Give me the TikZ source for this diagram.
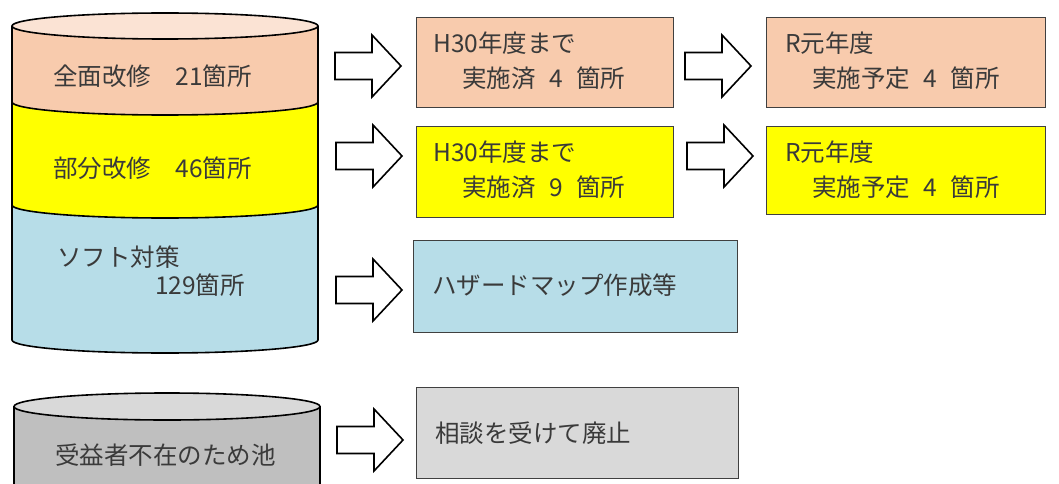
\documentclass[tikz,border=0pt]{standalone}
\usepackage{fontspec}
\setmainfont{Noto Sans CJK JP}
\definecolor{orng}{HTML}{F8CBAD}
\definecolor{orngtop}{HTML}{FBE3D4}
\definecolor{yel}{HTML}{FFFF00}
\definecolor{blu}{HTML}{B7DDE8}
\definecolor{gry}{HTML}{BFBFBF}
\definecolor{grytop}{HTML}{D9D9D9}
\definecolor{grybox}{HTML}{D9D9D9}
\definecolor{txt}{HTML}{3A3A3A}
\begin{document}
\begin{tikzpicture}[x=1pt,y=1pt,
  cyl/.style={draw=black,line width=1.6pt},
  box/.style={draw=black!75,line width=1.3pt,inner sep=0pt,anchor=north west},
  lbl/.style={anchor=west,inner sep=0pt,text=txt,font=\fontsize{24.5}{35}\selectfont},
  blockarrow/.style={draw=black,fill=white,line width=1.6pt,line join=miter},
  er/.style={x radius=153,y radius=13}]
\useasboundingbox (0,0) rectangle (1059,-484);
\fill[white] (0,0) rectangle (1059,-484);
\begin{scope}
\clip (0,0) rectangle (1059,-484);
% main cylinder bands
\fill[orng] (12,-26) -- (12,-102) arc[start angle=180,end angle=360,er] -- (318,-26) arc[start angle=0,end angle=-180,er] -- cycle;
\fill[yel] (12,-102) -- (12,-205) arc[start angle=180,end angle=360,er] -- (318,-102) arc[start angle=0,end angle=-180,er] -- cycle;
\fill[blu] (12,-205) -- (12,-340) arc[start angle=180,end angle=360,er] -- (318,-205) arc[start angle=0,end angle=-180,er] -- cycle;
\draw[cyl] (12,-26) -- (12,-340) arc[start angle=180,end angle=360,er] -- (318,-26);
\draw[cyl] (12,-102) arc[start angle=180,end angle=360,er];
\draw[cyl] (12,-205) arc[start angle=180,end angle=360,er];
\filldraw[cyl,fill=orngtop] (165,-26) ellipse[er];
% lower cylinder
\fill[gry] (14,-406.5) rectangle (320,-490);
\draw[cyl] (14,-406.5) -- (14,-490);
\draw[cyl] (320,-406.5) -- (320,-490);
\filldraw[cyl,fill=grytop] (167,-406.5) ellipse[x radius=153,y radius=13.5];
\end{scope}
% cylinder labels
\node[lbl] (c1) at (53,-76) {全面改修　21箇所};
\node[lbl] (c2) at (53,-168) {部分改修　46箇所};
\node[lbl] (c3a) at (57,-257) {ソフト対策};
\node[lbl] (c3b) at (155,-285) {129箇所};
\node[lbl] (c4) at (55,-455) {受益者不在のため池};
% boxes
\node[box,fill=orng,minimum width=257,minimum height=90] (b1) at (416,-17) {};
\node[box,fill=yel,minimum width=257,minimum height=91] (b2) at (416,-126) {};
\node[box,fill=orng,minimum width=279,minimum height=90] (r1) at (766,-17) {};
\node[box,fill=yel,minimum width=279,minimum height=88] (r2) at (766,-126) {};
\node[box,fill=blu,minimum width=324,minimum height=92] (h) at (413,-240) {};
\node[box,fill=grybox,minimum width=322,minimum height=91] (g) at (416,-387) {};
% box texts
\node[lbl] (b1a) at (433,-43) {H30年度まで};
\node[lbl] (b1b) at (462,-78) {実施済\hspace{0.55em}4\hspace{0.55em}箇所};
\node[lbl] (b2a) at (433,-152) {H30年度まで};
\node[lbl] (b2b) at (462,-187) {実施済\hspace{0.55em}9\hspace{0.55em}箇所};
\node[lbl] (r1a) at (785,-43) {R元年度};
\node[lbl] (r1b) at (812,-78) {実施予定\hspace{0.55em}4\hspace{0.55em}箇所};
\node[lbl] (r2a) at (785,-152) {R元年度};
\node[lbl] (r2b) at (812,-187) {実施予定\hspace{0.55em}4\hspace{0.55em}箇所};
\node[lbl] (ht) at (432,-285) {ハザードマップ作成等};
\node[lbl] (gt) at (435,-433) {相談を受けて廃止};
% block arrows (tail coordinates)
\coordinate (a1) at (335,-66);
\coordinate (a2) at (336,-156);
\coordinate (a3) at (336,-290);
\coordinate (a4) at (337,-440);
\coordinate (a5) at (685,-66);
\coordinate (a6) at (687,-156);
\foreach \a in {a1,a2,a3,a4,a5,a6}{
  \draw[blockarrow] (\a) ++(0,13.5) -- ++(37,0) -- ++(0,17.5) -- ++(29,-31)
    -- ++(-29,-31) -- ++(0,17.5) -- ++(-37,0) -- cycle;
}
\end{tikzpicture}
\end{document}
